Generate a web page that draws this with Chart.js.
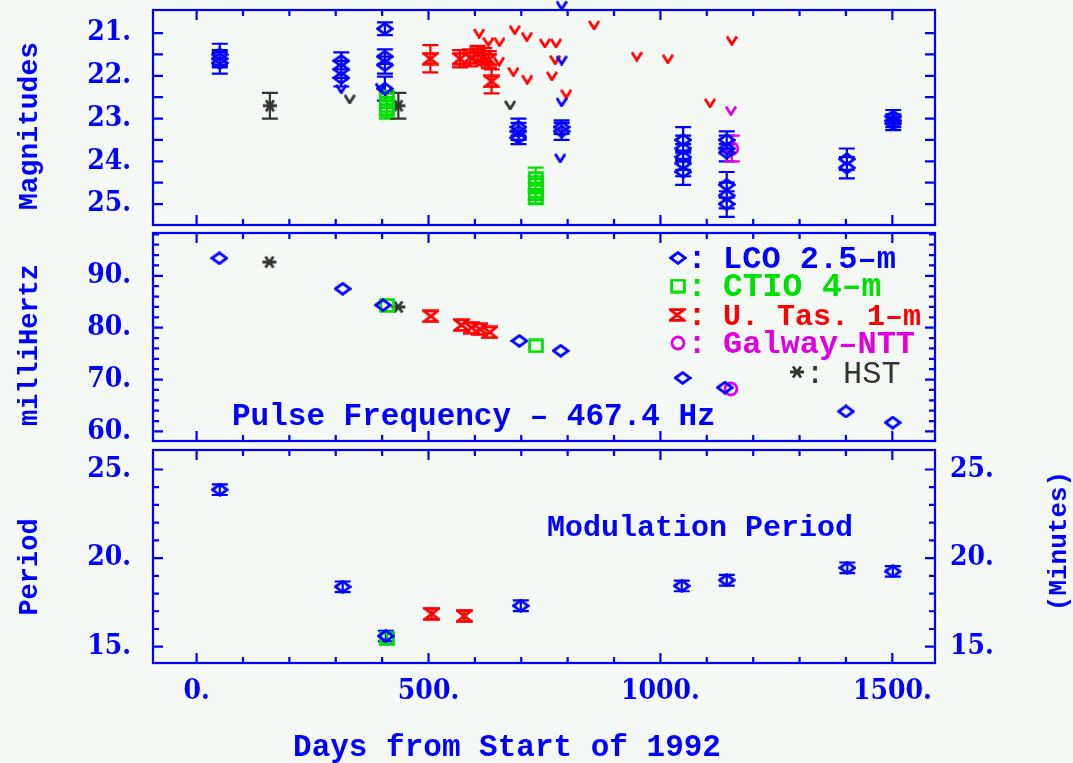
<!DOCTYPE html>
<html>
<head>
<meta charset="utf-8">
<title>Optical pulsar: magnitudes, pulse frequency and modulation period</title>
<script src="https://cdn.jsdelivr.net/npm/chart.js"></script>
<style>
  html, body { margin: 0; padding: 0; background: #f4f9f6; }
  #stage { position: relative; width: 1073px; height: 763px; overflow: hidden; }
  #stage canvas { position: absolute; left: 0; }
</style>
</head>
<body>
<div id="stage">
  <canvas id="magChart" width="1073" height="232" style="top:0px"></canvas>
  <canvas id="freqChart" width="1073" height="222" style="top:226px"></canvas>
  <canvas id="periodChart" width="1073" height="320" style="top:443px"></canvas>
</div>
<script>
// ---------------- data: days from start of 1992 ----------------

// Magnitudes (detections with 1-sigma errors)
const lcoMagDays = [50, 50, 50, 312, 312, 312, 406, 406, 406, 406, 694, 694, 694, 787, 787,
                    1049, 1049, 1049, 1049, 1049, 1143, 1143, 1143, 1143, 1143, 1143, 1402, 1402, 1502, 1502, 1502];
const lcoMags    = [21.5, 21.6, 21.7, 21.65, 21.85, 22.05, 20.9, 21.55, 21.75, 22.3, 23.2, 23.3, 23.45, 23.2, 23.3,
                    23.5, 23.7, 23.9, 24.05, 24.25, 23.5, 23.7, 23.8, 24.55, 24.8, 25.0, 23.95, 24.15, 22.95, 23.05, 23.12];
const lcoMagErr  = [0.25, 0.2, 0.25, 0.2, 0.2, 0.2, 0.15, 0.17, 0.2, 0.28, 0.2, 0.2, 0.15, 0.16, 0.2,
                    0.3, 0.3, 0.3, 0.3, 0.3, 0.2, 0.3, 0.2, 0.3, 0.3, 0.3, 0.25, 0.25, 0.15, 0.15, 0.15];

const ctioMagDays = [410, 410, 410, 731, 731, 731, 731];
const ctioMags    = [22.55, 22.7, 22.8, 24.4, 24.55, 24.7, 24.85];
const ctioMagErr  = [0.2, 0.2, 0.2, 0.25, 0.2, 0.2, 0.15];

const utasMagDays = [504, 568, 590, 606, 620, 630, 636];
const utasMags    = [21.6, 21.6, 21.58, 21.5, 21.55, 21.62, 22.13];
const utasMagErr  = [0.32, 0.2, 0.2, 0.2, 0.2, 0.2, 0.28];

const galwayMagDays = [1154];
const galwayMags    = [23.7];
const galwayMagErr  = [0.3];

const hstMagDays = [158, 435];
const hstMags    = [22.7, 22.7];
const hstMagErr  = [0.3, 0.3];

// Magnitudes (upper limits)
const lcoLimDays = [312, 397, 787, 787, 787, 784];
const lcoLimMags = [22.3, 22.27, 20.35, 21.63, 22.61, 23.92];
const utasLimDays = [609, 629, 653, 652, 686, 712, 683, 713, 751, 775, 773, 766, 797, 857, 949, 1016, 1107, 1154];
const utasLimMags = [21.0, 21.2, 21.2, 21.66, 20.92, 21.08, 21.9, 22.08, 21.23, 21.23, 21.62, 22.0, 22.42, 20.81, 21.54, 21.6, 22.63, 21.17];
const hstLimDays = [330, 676];
const hstLimMags = [22.54, 22.68];
const galwayLimDays = [1152];
const galwayLimMags = [22.81];

// Pulse frequency offset (milliHertz above 467.4 Hz)
const lcoFreqDays = [49, 315, 402, 696, 785, 1048, 1139, 1400, 1501];
const lcoFreq     = [93.4, 87.5, 84.35, 77.45, 75.55, 70.3, 68.45, 63.85, 61.7];
const ctioFreqDays = [411, 732];
const ctioFreq     = [84.3, 76.5];
const utasFreqDays = [505, 571, 593, 611, 632];
const utasFreq     = [82.2, 80.5, 80.0, 79.7, 79.1];
const galwayFreqDays = [1152];
const galwayFreq     = [68.2];
const hstFreqDays = [157, 435];
const hstFreq     = [92.65, 84.0];

// Modulation period (minutes)
const lcoPerDays = [50, 315, 408, 699, 1046, 1143, 1403, 1501];
const lcoPer     = [23.86, 18.38, 15.6, 17.31, 18.43, 18.75, 19.45, 19.25];
const ctioPerDays = [411];
const ctioPer     = [15.45];
const utasPerDays = [507, 577];
const utasPer     = [16.85, 16.73];
const perErr = 0.3;

// Tick labels
const dayTicks = [0, 500, 1000, 1500];
const magTicks = [21, 22, 23, 24, 25];
const freqTicks = [60, 70, 80, 90];
const perTicks = [15, 20, 25];

// ---------------- styling ----------------
const BLUE = '#0000ff', GREEN = '#00e000', RED = '#ff0000', MAGENTA = '#e000e0', GREY = '#333333';
const MONO = "'Liberation Mono', 'DejaVu Sans Mono', monospace";
const TICK_FONT = { family: "'DejaVu Serif Condensed', 'DejaVu Serif', serif", size: 28, weight: 'bold' };
const DAY_MIN = -94, DAY_MAX = 1592;

// Marker glyphs rendered once into small canvases and used as point styles
function glyph(w, h, color, paint) {
  const c = document.createElement('canvas');
  c.width = w; c.height = h;
  const g = c.getContext('2d');
  g.strokeStyle = color; g.lineWidth = 2.8; g.lineJoin = 'miter';
  g.beginPath(); paint(g); g.stroke();
  return c;
}
const sym = {
  diamond: glyph(18, 14, BLUE, g => { g.moveTo(1.6, 7); g.lineTo(9, 1.6); g.lineTo(16.4, 7); g.lineTo(9, 12.4); g.closePath(); }),
  square: glyph(16, 15, GREEN, g => g.rect(1.6, 1.6, 12.8, 11.8)),
  hourglass: glyph(17, 14, RED, g => { g.moveTo(1.6, 1.6); g.lineTo(15.4, 1.6); g.lineTo(1.6, 12.4); g.lineTo(15.4, 12.4); g.closePath(); }),
  circle: glyph(16, 16, MAGENTA, g => g.arc(8, 8, 6, 0, Math.PI * 2)),
  asterisk: glyph(18, 14, GREY, g => { g.moveTo(2, 7); g.lineTo(16, 7); g.moveTo(5, 1.5); g.lineTo(13, 12.5); g.moveTo(13, 1.5); g.lineTo(5, 12.5); })
};
function vee(color) {
  return glyph(12, 11, color, g => { g.moveTo(1, 1.5); g.lineTo(6, 9.5); g.lineTo(11, 1.5); });
}

function series(days, vals, style, extra) {
  return Object.assign({
    data: days.map((d, i) => ({ x: d, y: vals[i] })),
    pointStyle: style, pointRadius: 6, showLine: false, clip: false
  }, extra || {});
}

// Vertical error bars with end caps, read from dataset.errors
const errorBars = {
  id: 'errorBars',
  beforeDatasetsDraw(chart) {
    const ctx = chart.ctx;
    chart.data.datasets.forEach((ds, i) => {
      if (!ds.errors) return;
      const meta = chart.getDatasetMeta(i);
      const ys = chart.scales[meta.yAxisID];
      ctx.save();
      ctx.strokeStyle = ds.barColor; ctx.lineWidth = 2.2;
      ctx.beginPath();
      meta.data.forEach((pt, j) => {
        const e = Array.isArray(ds.errors) ? ds.errors[j] : ds.errors;
        const v = ds.data[j].y;
        const y1 = ys.getPixelForValue(v - e), y2 = ys.getPixelForValue(v + e);
        ctx.moveTo(pt.x, y1); ctx.lineTo(pt.x, y2);
        ctx.moveTo(pt.x - 8, y1); ctx.lineTo(pt.x + 8, y1);
        ctx.moveTo(pt.x - 8, y2); ctx.lineTo(pt.x + 8, y2);
      });
      ctx.stroke();
      ctx.restore();
    });
  }
};

// Panel box with inward ticks on all four sides
function framePlugin(o) {
  return {
    id: 'frame',
    afterDraw(chart) {
      const { ctx, chartArea: a } = chart;
      const xs = chart.scales.x, ys = chart.scales.y;
      ctx.save();
      ctx.strokeStyle = BLUE; ctx.lineWidth = 2.2;
      ctx.strokeRect(a.left, a.top, a.right - a.left, a.bottom - a.top);
      ctx.beginPath();
      for (let d = 0; d <= 1500; d += 100) {
        const x = xs.getPixelForValue(d), len = d % 500 === 0 ? 10 : 6;
        ctx.moveTo(x, a.top); ctx.lineTo(x, a.top + len);
        ctx.moveTo(x, a.bottom); ctx.lineTo(x, a.bottom - len);
      }
      const n = Math.round((o.yTo - o.yFrom) / o.yStep);
      for (let k = 0; k <= n; k++) {
        const v = o.yFrom + k * o.yStep;
        const y = ys.getPixelForValue(v);
        const r = v / o.yMajor;
        const len = Math.abs(r - Math.round(r)) < 1e-6 ? 10 : 6;
        ctx.moveTo(a.left, y); ctx.lineTo(a.left + len, y);
        ctx.moveTo(a.right, y); ctx.lineTo(a.right - len, y);
      }
      ctx.stroke();
      ctx.restore();
    }
  };
}

// Free text and legend glyphs, in canvas coordinates
function captionPlugin(items) {
  return {
    id: 'captions',
    afterDraw(chart) {
      const ctx = chart.ctx;
      items.forEach(t => {
        ctx.save();
        ctx.translate(t.x, t.y);
        if (t.rot) ctx.rotate(t.rot);
        if (t.glyph) {
          ctx.drawImage(t.glyph, -t.glyph.width / 2, -t.glyph.height / 2);
        } else {
          ctx.font = t.font; ctx.fillStyle = t.color;
          ctx.textAlign = t.align || 'left'; ctx.textBaseline = 'alphabetic';
          ctx.fillText(t.text, 0, 0);
        }
        ctx.restore();
      });
    }
  };
}

function dayScale(show) {
  const s = {
    type: 'linear', min: DAY_MIN, max: DAY_MAX, display: show,
    grid: { display: false, drawTicks: false }, border: { display: false }
  };
  if (show) {
    s.afterBuildTicks = sc => { sc.ticks = dayTicks.map(v => ({ value: v })); };
    s.ticks = { font: TICK_FONT, color: BLUE, padding: 12, maxRotation: 0, autoSkip: false, callback: v => v + '.' };
    s.afterFit = sc => { sc.height = 100; sc.paddingLeft = 0; sc.paddingRight = 0; };
  }
  return s;
}

function valueScale(o) {
  return {
    type: 'linear', position: o.position || 'left', min: o.min, max: o.max, reverse: !!o.reverse,
    grid: { display: false, drawTicks: false }, border: { display: false },
    afterBuildTicks: sc => { sc.ticks = o.ticks.map(v => ({ value: v })); },
    ticks: { font: TICK_FONT, color: BLUE, padding: o.pad, autoSkip: false, callback: v => v + '.' },
    afterFit: sc => { sc.width = o.width; sc.paddingTop = 0; sc.paddingBottom = 0; }
  };
}

function makePanel(id, cfg) {
  return new Chart(document.getElementById(id), {
    type: 'scatter',
    data: { datasets: cfg.datasets },
    options: {
      responsive: false, animation: false, events: [],
      layout: { padding: cfg.padding },
      plugins: { legend: { display: false }, tooltip: { enabled: false } },
      scales: cfg.scales
    },
    plugins: [errorBars, framePlugin(cfg.frame), captionPlugin(cfg.captions)]
  });
}

const HALF_TURN = -Math.PI / 2;

// ---------------- panel 1: magnitudes ----------------
makePanel('magChart', {
  padding: { top: 10, bottom: 4, left: 0, right: 138 },
  datasets: [
    series(lcoMagDays, lcoMags, sym.diamond, { errors: lcoMagErr, barColor: BLUE }),
    series(ctioMagDays, ctioMags, sym.square, { errors: ctioMagErr, barColor: GREEN }),
    series(utasMagDays, utasMags, sym.hourglass, { errors: utasMagErr, barColor: RED }),
    series(galwayMagDays, galwayMags, sym.circle, { errors: galwayMagErr, barColor: MAGENTA }),
    series(hstMagDays, hstMags, sym.asterisk, { errors: hstMagErr, barColor: GREY }),
    series(lcoLimDays, lcoLimMags, vee(BLUE)),
    series(utasLimDays, utasLimMags, vee(RED)),
    series(hstLimDays, hstLimMags, vee(GREY)),
    series(galwayLimDays, galwayLimMags, vee(MAGENTA))
  ],
  scales: {
    x: dayScale(false),
    y: valueScale({ min: 20.46, max: 25.49, reverse: true, ticks: magTicks, pad: 22, width: 153 })
  },
  frame: { yFrom: 21, yTo: 25, yStep: 0.5, yMajor: 0.5 },
  captions: [
    { text: 'Magnitudes', x: 37, y: 126, rot: HALF_TURN, align: 'center', font: 'bold 28px ' + MONO, color: BLUE }
  ]
});

// ---------------- panel 2: pulse frequency ----------------
const legendFont = size => 'bold ' + size + 'px ' + MONO;
makePanel('freqChart', {
  padding: { top: 2, bottom: 3, left: 0, right: 138 },
  datasets: [
    series(lcoFreqDays, lcoFreq, sym.diamond),
    series(ctioFreqDays, ctioFreq, sym.square),
    series(utasFreqDays, utasFreq, sym.hourglass),
    series(galwayFreqDays, galwayFreq, sym.circle),
    series(hstFreqDays, hstFreq, sym.asterisk)
  ],
  scales: {
    x: dayScale(false),
    y: valueScale({ min: 58.15, max: 98.26, ticks: freqTicks, pad: 22, width: 153 })
  },
  frame: { yFrom: 60, yTo: 98, yStep: 2, yMajor: 10 },
  captions: [
    { text: 'milliHertz', x: 37, y: 119, rot: HALF_TURN, align: 'center', font: 'bold 27px ' + MONO, color: BLUE },
    { glyph: sym.diamond, x: 678, y: 32 },
    { text: ':', x: 697, y: 42, align: 'center', font: legendFont(32), color: BLUE },
    { text: 'LCO 2.5–m', x: 723, y: 42, font: legendFont(32), color: BLUE },
    { glyph: sym.square, x: 678, y: 60 },
    { text: ':', x: 697, y: 70, align: 'center', font: legendFont(32), color: GREEN },
    { text: 'CTIO 4–m', x: 723, y: 70, font: legendFont(33), color: GREEN },
    { glyph: sym.hourglass, x: 677, y: 89 },
    { text: ':', x: 697, y: 99, align: 'center', font: legendFont(32), color: RED },
    { text: 'U. Tas. 1–m', x: 723, y: 99, font: legendFont(30), color: RED },
    { glyph: sym.circle, x: 678, y: 117 },
    { text: ':', x: 697, y: 127, align: 'center', font: legendFont(32), color: MAGENTA },
    { text: 'Galway–NTT', x: 723, y: 127, font: legendFont(32), color: MAGENTA },
    { glyph: sym.asterisk, x: 797, y: 146 },
    { text: ':', x: 815, y: 157, align: 'center', font: '32px ' + MONO, color: GREY },
    { text: 'HST', x: 843, y: 157, font: '32px ' + MONO, color: GREY },
    { text: 'Pulse Frequency – 467.4 Hz', x: 232, y: 199, font: 'bold 31px ' + MONO, color: BLUE }
  ]
});

// ---------------- panel 3: modulation period ----------------
makePanel('periodChart', {
  padding: { top: 2, bottom: 0, left: 0, right: 0 },
  datasets: [
    series(lcoPerDays, lcoPer, sym.diamond, { errors: perErr, barColor: BLUE }),
    series(ctioPerDays, ctioPer, sym.square, { errors: perErr, barColor: GREEN }),
    series(utasPerDays, utasPer, sym.hourglass, { errors: perErr, barColor: RED })
  ],
  scales: {
    x: dayScale(true),
    y: valueScale({ min: 14.08, max: 26.1, ticks: perTicks, pad: 22, width: 153 }),
    y2: valueScale({ position: 'right', min: 14.08, max: 26.1, ticks: perTicks, pad: 15, width: 138 })
  },
  frame: { yFrom: 15, yTo: 25, yStep: 1, yMajor: 5 },
  captions: [
    { text: 'Period', x: 37, y: 124, rot: HALF_TURN, align: 'center', font: 'bold 27px ' + MONO, color: BLUE },
    { text: '(Minutes)', x: 1066, y: 98, rot: HALF_TURN, align: 'center', font: 'bold 26px ' + MONO, color: BLUE },
    { text: 'Modulation Period', x: 547, y: 93, font: 'bold 30px ' + MONO, color: BLUE },
    { text: 'Days from Start of 1992', x: 507, y: 313, align: 'center', font: 'bold 31px ' + MONO, color: BLUE }
  ]
});
</script>
</body>
</html>
